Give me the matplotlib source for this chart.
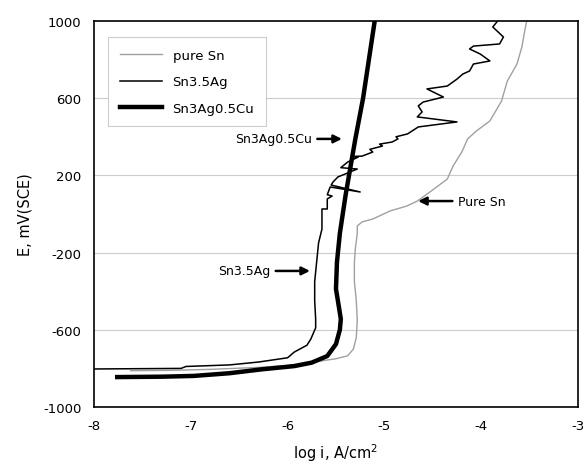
import matplotlib
matplotlib.use("Agg")
import matplotlib.pyplot as plt

plt.rcParams["axes.unicode_minus"] = False

# pure Sn (grey thin)
snX = [-7.62, -7.2, -6.8, -6.3, -6.0, -5.7, -5.5, -5.38, -5.32, -5.29, -5.28, -5.29, -5.31,
       -5.31, -5.30, -5.28, -5.28, -5.23, -5.12, -4.94, -4.77, -4.66, -4.53, -4.35, -4.29,
       -4.20, -4.14, -4.05, -3.91, -3.79, -3.73, -3.63, -3.58, -3.55, -3.53]
snE = [-812, -810, -805, -795, -785, -765, -750, -735, -700, -640, -550, -450, -350,
       -250, -180, -100, -62, -41, -26, 16, 41, 67, 114, 181, 249,
       321, 389, 430, 482, 585, 689, 777, 865, 948, 1000]

# Sn3.5Ag (black thin)
agX = [-8.0, -7.1, -7.05, -6.6, -6.3, -6.0, -5.93, -5.8, -5.76, -5.71, -5.71, -5.72, -5.72,
       -5.70, -5.68, -5.645, -5.645, -5.59, -5.59, -5.54, -5.59, -5.56, -5.25, -5.55, -5.53,
       -5.48, -5.28, -5.45, -5.38, -5.27, -5.33, -5.23, -5.12, -5.15, -5.02, -5.05, -4.92,
       -4.86, -4.88, -4.76, -4.65, -4.25, -4.66, -4.61, -4.65, -4.60, -4.39, -4.56, -4.35,
       -4.25, -4.19, -4.12, -4.08, -3.91, -4.01, -4.12, -4.08, -3.81, -3.77, -3.88, -3.83]
agE = [-803, -800, -790, -782, -767, -745, -715, -680, -648, -590, -544, -450, -350,
       -250, -150, -78, 26, 26, 78, 93, 100, 140, 114, 150, 166,
       192, 233, 240, 269, 295, 298, 300, 321, 335, 352, 362, 373,
       389, 400, 415, 451, 477, 503, 529, 560, 580, 606, 648, 663,
       699, 725, 741, 777, 793, 829, 855, 870, 881, 917, 969, 1000]

# Sn3Ag0.5Cu (black thick)
cuX = [-7.76, -7.3, -6.97, -6.6, -6.27, -5.93, -5.75, -5.59, -5.50, -5.46, -5.45, -5.48,
       -5.50, -5.49, -5.46, -5.40, -5.30, -5.22, -5.10]
cuE = [-845, -843, -839, -825, -805, -788, -770, -736, -674, -600, -544, -450,
       -389, -250, -100, 100, 389, 600, 1000]

xTicks = [-8, -7, -6, -5, -4, -3]
yTicks = [-1000, -600, -200, 200, 600, 1000]

fig = plt.figure(figsize=(5.86, 4.64), dpi=100)
ax = fig.add_axes([0.1604, 0.1207, 0.8259, 0.8319])

for y in yTicks[1:-1]:
    ax.axhline(y, color="#cccccc", lw=0.8, zorder=0)

ax.plot(snX, snE, color="#a0a0a0", lw=1.0, label="pure Sn")
ax.plot(agX, agE, color="black", lw=1.1, label="Sn3.5Ag")
ax.plot(cuX, cuE, color="black", lw=3.2, label="Sn3Ag0.5Cu")

ax.set_xlim(-8, -3)
ax.set_ylim(-1000, 1000)
ax.set_xticks(xTicks)
ax.set_yticks(yTicks)
ax.tick_params(length=0, labelsize=9.5, pad=9)
for s in ax.spines.values():
    s.set_linewidth(1.2)

ax.set_xlabel("log i, A/cm$^2$", fontsize=10.5, labelpad=6)
ax.set_ylabel("E, mV(SCE)", fontsize=10.5, labelpad=8)

arr = dict(arrowstyle="-|>", color="black", lw=1.8, mutation_scale=12)
ax.annotate("Sn3Ag0.5Cu", xy=(-5.41, 389), xytext=(-5.75, 389), fontsize=9,
            ha="right", va="center", arrowprops=arr)
ax.annotate("Pure Sn", xy=(-4.68, 67), xytext=(-4.24, 67), fontsize=9,
            ha="left", va="center", arrowprops=arr)
ax.annotate("Sn3.5Ag", xy=(-5.74, -295), xytext=(-6.18, -295), fontsize=9,
            ha="right", va="center", arrowprops=arr)

leg = ax.legend(loc="upper left", bbox_to_anchor=(0.015, 0.975), fontsize=9.5,
                fancybox=False, framealpha=1, edgecolor="#cccccc",
                handlelength=3.2, borderpad=0.9, labelspacing=1.0)
leg.get_frame().set_linewidth(0.8)

fig.savefig("out.png", dpi=100)
